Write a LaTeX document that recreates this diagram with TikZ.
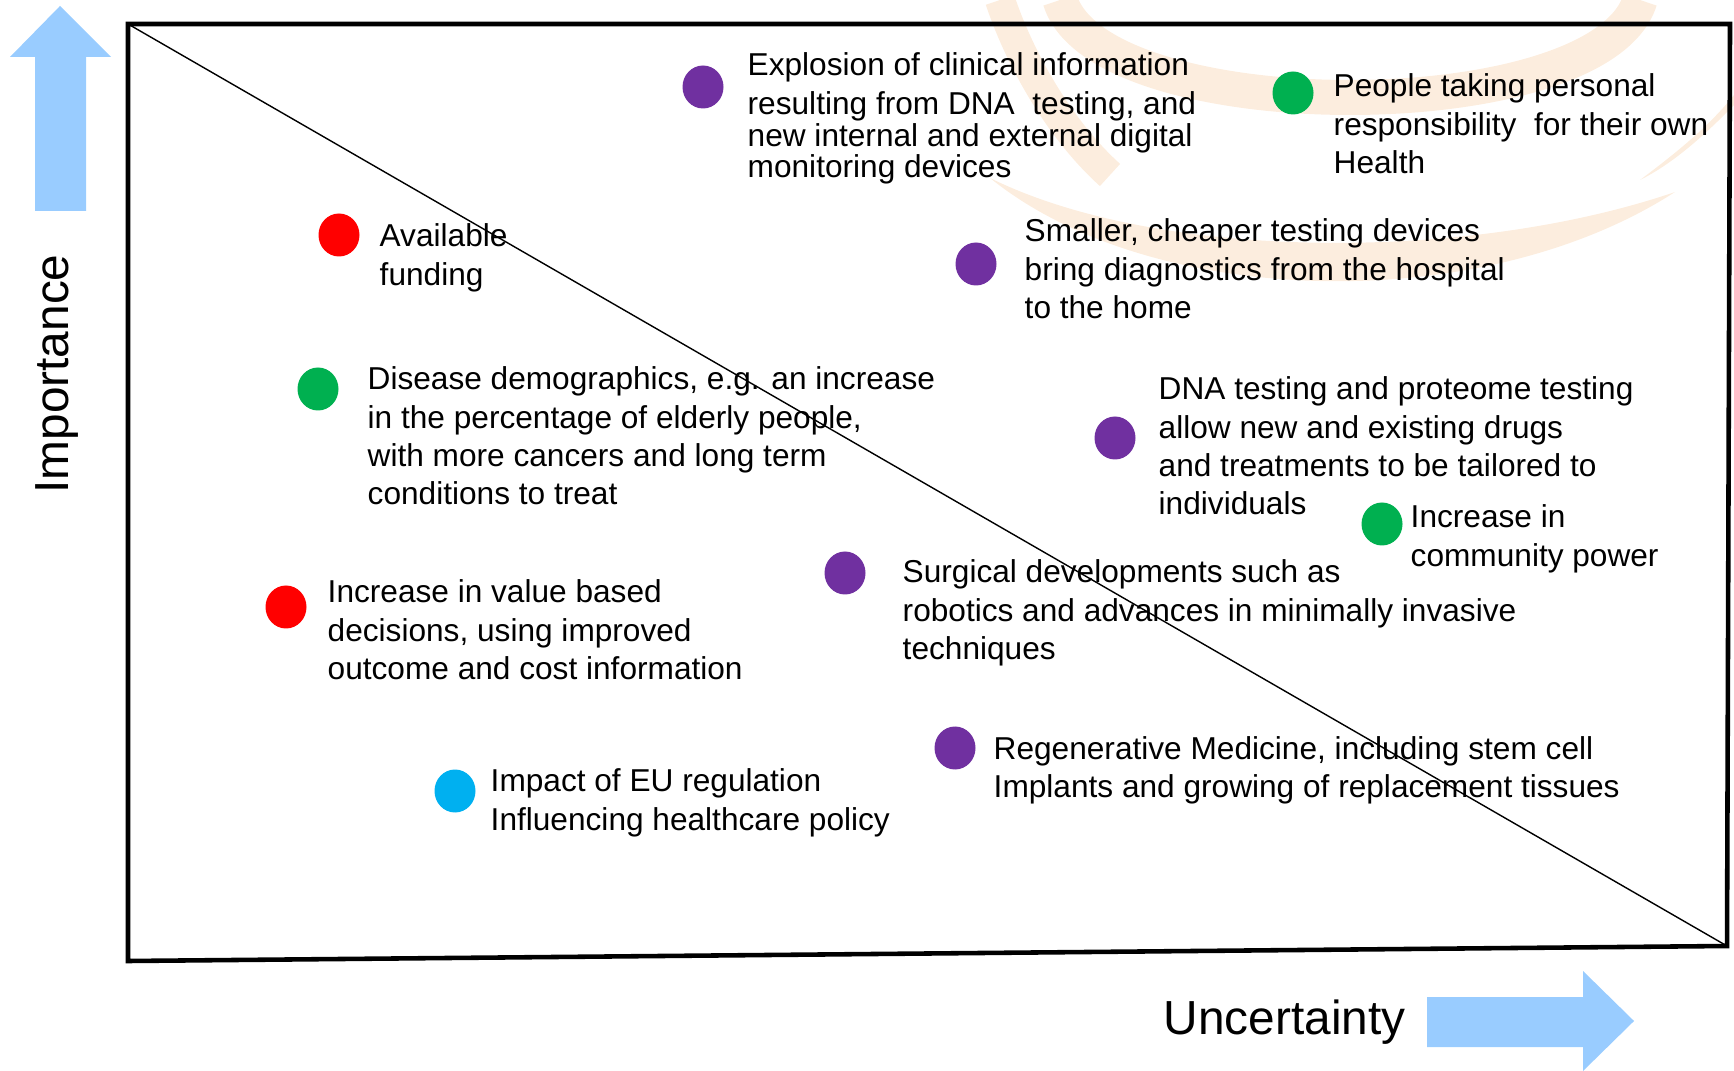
\documentclass[tikz,border=0pt]{standalone}
\usepackage{fontspec}
\setmainfont{Liberation Sans}
\usetikzlibrary{shapes.geometric}

\definecolor{arrowblue}{RGB}{153,204,255}
\definecolor{dotpurple}{RGB}{112,48,160}
\definecolor{dotgreen}{RGB}{0,176,80}
\definecolor{dotred}{RGB}{255,0,0}
\definecolor{dotblue}{RGB}{0,176,240}
\definecolor{swirl}{RGB}{252,237,222}

% several lines, the node sits on the first baseline
\newcommand{\drvtext}[1]{\begin{tabular}[t]{@{}l@{}}#1\end{tabular}}

\tikzset{
  dot/.style={ellipse, fill=#1, minimum width=4.1mm, minimum height=4.3mm, inner sep=0pt},
  txt/.style={anchor=base west, inner sep=0pt, font=\fontsize{9}{10.9}\selectfont},
  axis/.style={font=\fontsize{13.6}{16}\selectfont, inner sep=0pt},
}

\begin{document}
\begin{tikzpicture}[x=0.1mm, y=-0.1mm]
    \useasboundingbox (0,0) rectangle (1734,1071);
%    \draw[help lines, step=100] (0,0) grid (1734,1071);

    % logo in the background
    \fill[swirl] (990,178) .. controls (1150,308) and (1480,318) .. (1675,192)
                 .. controls (1470,262) and (1160,262) .. cycle;
    \draw[swirl, line width=3.5mm] (1060,0) .. controls (1100,130) and (1600,130) .. (1640,0);
    \draw[swirl, line width=3mm] (1000,0) .. controls (1020,60) and (1060,130) .. (1110,175);
    \fill[swirl] (1734,105) .. controls (1700,140) and (1670,165) .. (1640,180)
                 .. controls (1680,150) and (1710,125) .. (1734,95) -- cycle;

    % axes
    \fill[arrowblue] (35,211) -- (35,57) -- (10,57) -- (60,6) -- (111,57) -- (86,57) -- (86,211) -- cycle;
    \fill[arrowblue] (1427,997) -- (1583,997) -- (1583,971) -- (1634,1021) -- (1583,1071) -- (1583,1047) -- (1427,1047) -- cycle;
    \node[axis, rotate=90] (importance) at (57,374) {Importance};
    \node[axis, anchor=base west] (uncertainty) at (1163,1034) {Uncertainty};

    % frame and diagonal
    \coordinate (tl) at (128,24);
    \coordinate (tr) at (1730,24);
    \coordinate (br) at (1727,946);
    \coordinate (bl) at (128,961);
    \draw[line width=1.3pt] (tl) -- (tr) -- (br) -- (bl) -- cycle;
    \draw[line width=0.4pt] (tl) -- (br);

    % drivers
    \node[dot=dotpurple] (d-explosion) at (703,87)  {};
    \node[dot=dotgreen]  (d-people)    at (1293,93) {};
    \node[dot=dotpurple] (d-smaller)   at (976,264) {};
    \node[dot=dotred]    (d-funding)   at (339,235) {};
    \node[dot=dotgreen]  (d-disease)   at (318,389) {};
    \node[dot=dotred]    (d-value)     at (286,607) {};
    \node[dot=dotblue]   (d-eu)        at (455,791) {};
    \node[dot=dotpurple] (d-surgical)  at (845,573) {};
    \node[dot=dotpurple] (d-dna)       at (1115,438) {};
    \node[dot=dotgreen]  (d-community) at (1382,524) {};
    \node[dot=dotpurple] (d-regen)     at (955,748) {};

    \node[txt] (explosion) at (747,76) {\drvtext{Explosion of clinical information\\
        resulting from DNA\ \ testing, and\\[-1.8pt]
        new internal and external digital\\[-2pt]
        monitoring devices}};
    \node[txt] (people) at (1333,97) {\drvtext{People taking personal\\
        responsibility\ \ for their own\\ Health}};
    \node[txt] (smaller) at (1024,242) {\drvtext{Smaller, cheaper testing devices\\
        bring diagnostics from the hospital\\ to the home}};
    \node[txt] (funding) at (379,247) {\drvtext{Available\\ funding}};
    \node[txt] (disease) at (367,390) {\drvtext{Disease demographics, e.g. an increase\\
        in the percentage of elderly people,\\
        with more cancers and long term\\ conditions to treat}};
    \node[txt] (value) at (327,603) {\drvtext{Increase in value based\\
        decisions, using improved\\ outcome and cost information}};
    \node[txt] (eu) at (490,792) {\drvtext{Impact of EU regulation\\ Influencing healthcare policy}};
    \node[txt] (surgical) at (902,583) {\drvtext{Surgical developments such as\\
        robotics and advances in minimally invasive\\ techniques}};
    \node[txt] (dna) at (1158,400) {\drvtext{DNA testing and proteome testing\\
        allow new and existing drugs\\
        and treatments to be tailored to\\ individuals}};
    \node[txt] (community) at (1410,528) {\drvtext{Increase in\\ community power}};
    \node[txt] (regen) at (993,759) {\drvtext{Regenerative Medicine, including stem cell\\
        Implants and growing of replacement tissues}};
\end{tikzpicture}
\end{document}
